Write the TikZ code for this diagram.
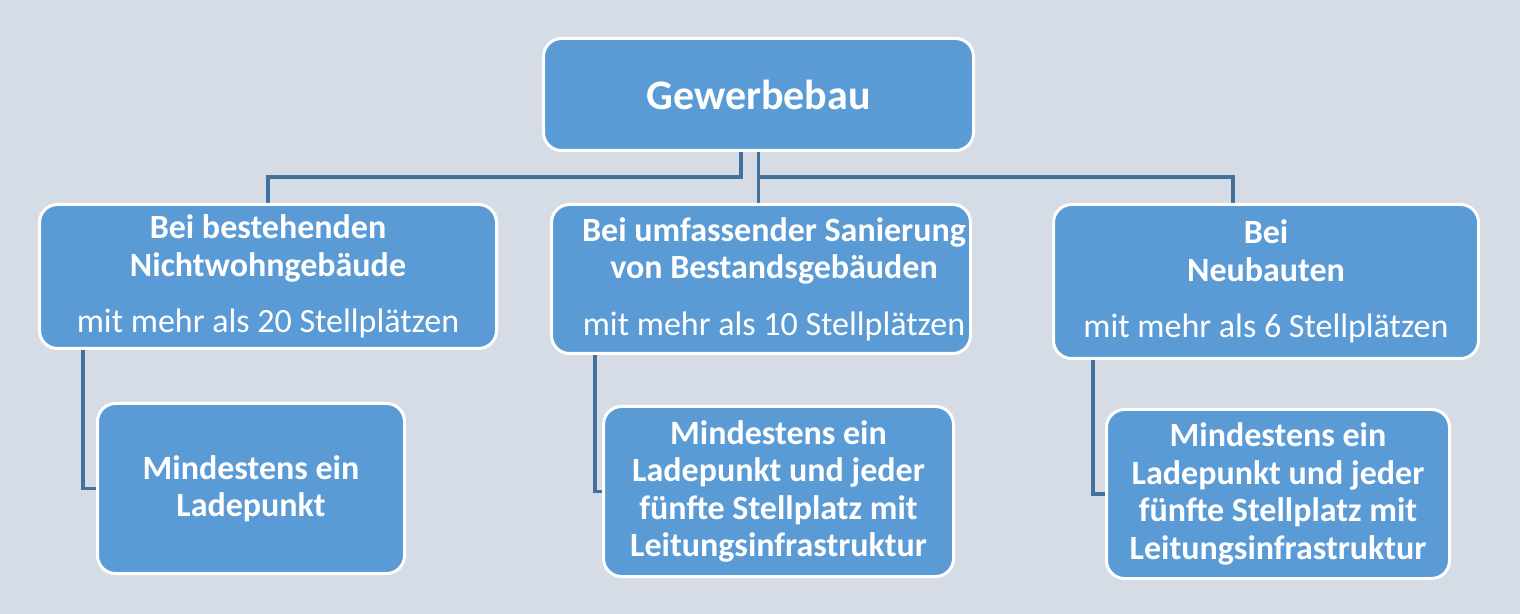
\documentclass[tikz,border=0pt]{standalone}
\usepackage{fontspec}
\setmainfont{Carlito}
\usetikzlibrary{calc}
\definecolor{bgc}{HTML}{D6DCE5}
\definecolor{boxc}{HTML}{5B9BD5}
\definecolor{linec}{HTML}{41719C}
\pgfdeclarelayer{bgl}
\pgfdeclarelayer{connl}
\pgfsetlayers{bgl,connl,main}
\tikzset{
  box/.style={draw=white, line width=1.5pt, fill=boxc, rounded corners=9pt,
    text=white, align=center, inner sep=0pt, font=\fontsize{17}{18.75}\selectfont},
  conn/.style={draw=linec, line width=1.6pt},
}
\newcommand{\rs}{\hspace*{13pt}}
\begin{document}
\begin{tikzpicture}[x=0.5pt, y=-0.5pt]
\begin{pgfonlayer}{bgl}
\fill[bgc] (0,0) rectangle (1520,614);
\end{pgfonlayer}
\useasboundingbox (0,0) rectangle (1520,614);

\node[box, minimum width=215pt, minimum height=56pt, font=\fontsize{21}{24}\selectfont] (top) at (758.5,94.5) {\bfseries Gewerbebau};

\node[box, minimum width=228.5pt, minimum height=72pt] (b1) at (268,276.5)
  {\bfseries Bei bestehenden\\ \bfseries Nichtwohngebäude\\[9.5pt] mit mehr als 20 Stellplätzen};
\node[box, minimum width=209.5pt, minimum height=74.5pt] (b2) at (761,279)
  {\rs\bfseries Bei umfassender Sanierung\\ \rs\bfseries von Bestandsgebäuden\\[9.5pt] \rs mit mehr als 10 Stellplätzen};
\node[box, minimum width=212.5pt, minimum height=77pt] (b3) at (1266,281.5)
  {\bfseries Bei\\ \bfseries Neubauten\\[9.5pt] mit mehr als 6 Stellplätzen};

\node[box, minimum width=153.5pt, minimum height=85pt] (c1) at (251,488.5)
  {\bfseries Mindestens ein\\ \bfseries Ladepunkt};
\node[box, minimum width=175pt, minimum height=85pt] (c2) at (778.5,491.5)
  {\bfseries Mindestens ein\\ \bfseries Ladepunkt und jeder\\ \bfseries fünfte Stellplatz mit\\ \bfseries Leitungsinfrastruktur};
\node[box, minimum width=171.5pt, minimum height=84.5pt] (c3) at (1278,494)
  {\bfseries Mindestens ein\\ \bfseries Ladepunkt und jeder\\ \bfseries fünfte Stellplatz mit\\ \bfseries Leitungsinfrastruktur};

\coordinate (jl) at ($(top.south)+(-17.5,0)$);
\coordinate (jr) at (1233,177);

\begin{pgfonlayer}{connl}
\draw[conn] (jl) -- (jl |- jr) -| (b1.north);
\draw[conn] (top.south) -- (top.south |- b2.north);
\draw[conn] (top.south |- jr) -- (jr) -- (jr |- b3.north);
\draw[conn] ($(b1.south west)+(45,0)$) |- (c1.west);
\draw[conn] ($(b2.south west)+(45,0)$) |- (c2.west);
\draw[conn] ($(b3.south west)+(41,0)$) |- (c3.west);
\end{pgfonlayer}
\end{tikzpicture}
\end{document}
